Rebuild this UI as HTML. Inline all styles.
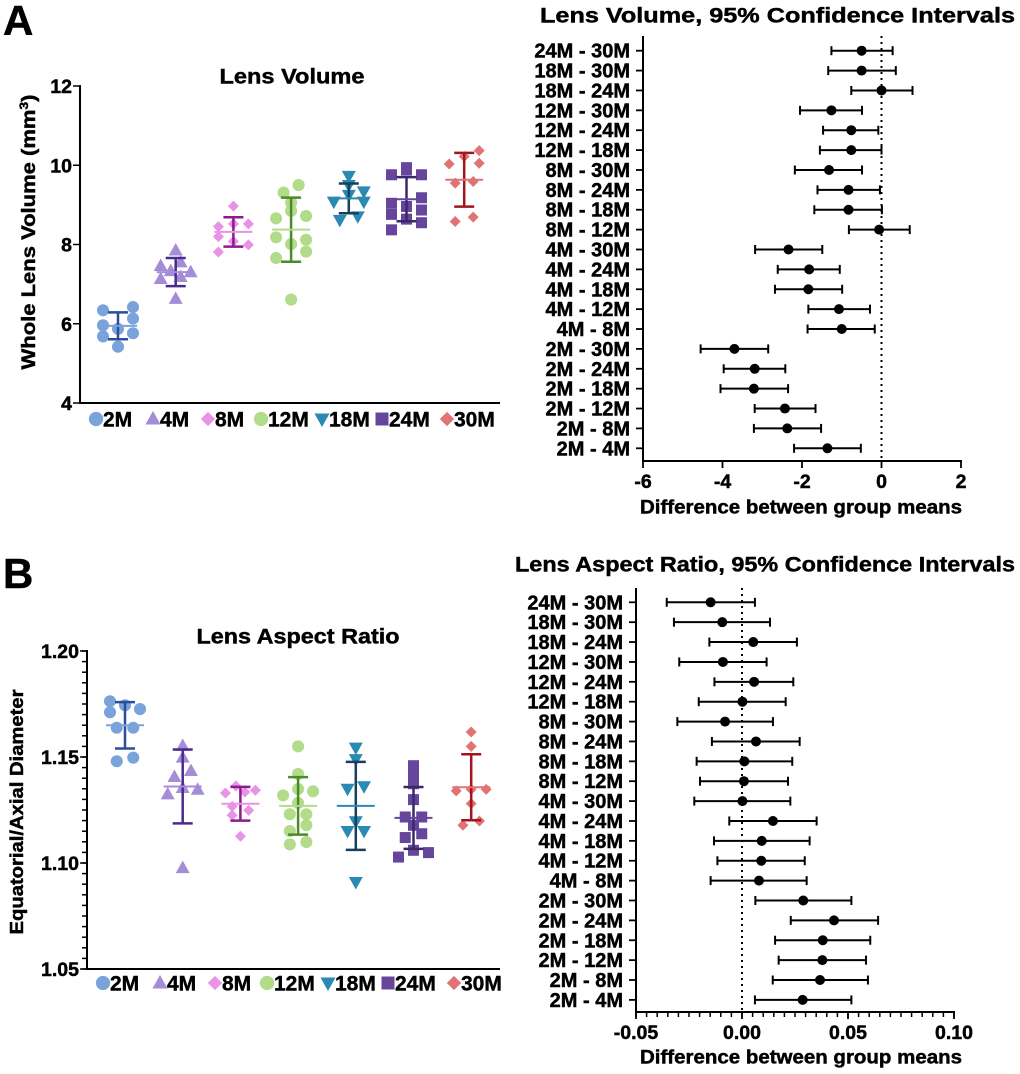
<!DOCTYPE html>
<html><head><meta charset="utf-8">
<style>
html,body{margin:0;padding:0;background:#fff;}
svg{display:block;font-family:"Liberation Sans",Arial,sans-serif;font-weight:bold;}
svg text{stroke:#000;stroke-width:0.45px;}
</style></head>
<body>
<svg id="fig" width="1020" height="1074" viewBox="0 0 1020 1074" xmlns="http://www.w3.org/2000/svg">
<text x="3" y="35" font-size="42">A</text>
<text x="3" y="588" font-size="42">B</text>
</svg>
<script>
// ---------- DATA ----------
const groups = ["2M","4M","8M","12M","18M","24M","30M"];
const volume2M = [6.34,6.42,5.96,6.13,5.87,5.68,5.76,5.42];
const volume4M = [7.85,7.46,7.55,7.30,7.33,7.13,7.18,6.63];
const volume8M = [8.97,8.45,8.52,8.52,8.20,8.08,7.99,7.81];
const volume12M = [9.50,9.31,9.06,8.85,8.66,8.72,8.18,8.12,8.01,7.82,7.66,6.61];
const volume18M = [9.73,9.50,9.08,9.25,9.34,9.08,8.62,8.71];
const volume24M = [9.94,9.76,9.76,9.88,9.04,8.96,9.18,8.87,8.76,8.64,8.55,8.37];
const volume30M = [10.37,10.22,10.03,10.05,9.55,9.59,8.69,8.58];
const volumeTicks = [4,6,8,10,12];

const ratio2M = [1.1763,1.1744,1.1726,1.1711,1.1638,1.1638,1.1480,1.1497];
const ratio4M = [1.1552,1.1497,1.1406,1.1434,1.1354,1.1324,1.1346,1.0976];
const ratio8M = [1.1363,1.1330,1.1335,1.1343,1.1267,1.1248,1.1225,1.1126];
const ratio12M = [1.1550,1.1420,1.1319,1.1349,1.1338,1.1283,1.1230,1.1230,1.1151,1.1178,1.1088,1.1099];
const ratio18M = [1.1544,1.1490,1.1350,1.1362,1.1197,1.1151,1.1151,1.0910];
const ratio24M = [1.1459,1.1414,1.1374,1.1299,1.1217,1.1217,1.1178,1.1120,1.1138,1.1060,1.1049,1.1028];
const ratio30M = [1.1618,1.1550,1.1340,1.1347,1.1347,1.1280,1.1178,1.1198];
const ratioTicks = [1.05,1.10,1.15,1.20];
const ratioTickLabels = ["1.05","1.10","1.15","1.20"];

const comparisons = ["24M - 30M","18M - 30M","18M - 24M","12M - 30M","12M - 24M","12M - 18M","8M - 30M","8M - 24M","8M - 18M","8M - 12M","4M - 30M","4M - 24M","4M - 18M","4M - 12M","4M - 8M","2M - 30M","2M - 24M","2M - 18M","2M - 12M","2M - 8M","2M - 4M"];
const volDiff = [-0.50,-0.50,0,-1.26,-0.76,-0.76,-1.32,-0.83,-0.83,-0.06,-2.34,-1.82,-1.84,-1.07,-1.00,-3.70,-3.19,-3.21,-2.43,-2.37,-1.36];
const volLow = [-1.26,-1.34,-0.76,-2.05,-1.47,-1.55,-2.18,-1.61,-1.69,-0.82,-3.18,-2.61,-2.68,-1.84,-1.86,-4.55,-3.97,-4.05,-3.19,-3.21,-2.20];
const volHigh = [0.28,0.36,0.78,-0.49,-0.08,0.00,-0.49,-0.04,0.01,0.71,-1.49,-1.05,-0.99,-0.29,-0.17,-2.85,-2.42,-2.35,-1.66,-1.52,-0.52];
const volDiffTicks = [-6,-4,-2,0,2];

const ratioDiff = [-0.0148,-0.0093,0.0053,-0.0090,0.0057,0.0002,-0.0080,0.0066,0.0011,0.0009,0.0002,0.0146,0.0093,0.0091,0.0080,0.0289,0.0434,0.0381,0.0379,0.0368,0.0286];
const ratioLow = [-0.0355,-0.0321,-0.0154,-0.0296,-0.0130,-0.0204,-0.0305,-0.0142,-0.0214,-0.0198,-0.0225,-0.0060,-0.0132,-0.0116,-0.0148,0.0063,0.0230,0.0156,0.0173,0.0145,0.0061];
const ratioHigh = [0.0061,0.0132,0.0259,0.0116,0.0242,0.0206,0.0146,0.0272,0.0237,0.0217,0.0228,0.0352,0.0319,0.0296,0.0305,0.0516,0.0642,0.0605,0.0585,0.0594,0.0516];
const ratioDiffTicks = [-0.05,0,0.05,0.10];
const ratioDiffTickLabels = ["-0.05","0.00","0.05","0.10"];

// ---------- STYLE ----------
const fillColors = ["#7aa3dc","#a58cd6","#e893e8","#b3dc8a","#2a8ab2","#65469c","#e07474"];
const barColors = ["#2a4f98","#4b2a90","#8d1a8d","#4a8a28","#173f5e","#3b2868","#a0161c"];
const shapes = ["circle","tri","diamond","circle","itri","square","diamond"];
const jitterA = [[-1,1,-1,1,0,-1,1,0],[0,-1,0.33,1,-0.33,-1,0.33,0],[0,-1,0,1,-1,0,1,-1],[0.5,-0.5,0,0,-1,1,-1,1,0,1,-1,0],[0,0,-1,0,1,1,-0.6,0.6],[0,-1,1,0,-1,0,1,1,-1,0,1,-1],[1,0,-1,1,-0.6,0.6,0.6,-0.6]];
const jitterB = [[-1,0,1,-1,-0.55,0.55,-0.55,0.55],[0,0,-0.55,0.55,0,-1,1,0],[-0.3,-1,0.3,1,-0.55,0.55,-0.55,0],[0,0,-1,0,1,0,-0.55,0.55,-0.55,0.55,-0.55,0.55],[0,0,-0.55,0.55,0,-0.55,0.55,0],[0,0,0,0,-0.55,0.55,0,-0.55,0.55,0,1,-1],[0,0,-1,0,1,0,-0.55,0.55]];

const svg = document.getElementById('fig');
const NS = 'http://www.w3.org/2000/svg';
function mk(tag, attrs, parent){
  const e = document.createElementNS(NS, tag);
  for (const k in attrs) e.setAttribute(k, attrs[k]);
  (parent||svg).appendChild(e);
  return e;
}
function txt(x,y,s,size,anchor,parent,len){
  const a = {x:x,y:y,'font-size':size,'text-anchor':anchor||'start','dominant-baseline':'central'};
  if(len){a.textLength=len; a.lengthAdjust='spacingAndGlyphs';}
  const t = mk('text',a,parent);
  t.textContent = s;
  return t;
}
function marker(shape,cx,cy,s,fill,parent){
  let e;
  if(shape==='circle') e = mk('circle',{cx:cx,cy:cy,r:s*0.55,fill:fill},parent);
  else if(shape==='tri') e = mk('polygon',{points:`${cx},${cy-s*0.62} ${cx-s*0.58},${cy+s*0.42} ${cx+s*0.58},${cy+s*0.42}`,fill:fill},parent);
  else if(shape==='itri') e = mk('polygon',{points:`${cx},${cy+s*0.62} ${cx-s*0.58},${cy-s*0.42} ${cx+s*0.58},${cy-s*0.42}`,fill:fill},parent);
  else if(shape==='square') e = mk('rect',{x:cx-s*0.5,y:cy-s*0.5,width:s,height:s,fill:fill},parent);
  else e = mk('polygon',{points:`${cx},${cy-s*0.55} ${cx+s*0.55},${cy} ${cx},${cy+s*0.55} ${cx-s*0.55},${cy}`,fill:fill},parent);
  return e;
}
function meanSd(a){
  const m = a.reduce((p,c)=>p+c,0)/a.length;
  const v = a.reduce((p,c)=>p+(c-m)*(c-m),0)/(a.length-1);
  return [m, Math.sqrt(v)];
}

function scatterPanel(cfg){
  const g = mk('g',{});
  
  
  const y = v => cfg.y0 + (v-cfg.vmin)/(cfg.vmax-cfg.vmin)*(cfg.y1-cfg.y0);
  const x = i => cfg.xc0 + i*cfg.xstep;
  const yAxis = mk('line',{x1:cfg.ax,y1:cfg.y1-1,x2:cfg.ax,y2:cfg.y0+1,stroke:'#000','stroke-width':2},g);
  
  
  const xAxis = mk('line',{x1:cfg.ax-1,y1:cfg.y0,x2:cfg.xend,y2:cfg.y0,stroke:'#000','stroke-width':2},g);
  
  
  if(cfg.minor){
    for(let v=cfg.vmin; v<=cfg.vmax+1e-9; v+=cfg.minor){
      mk('line',{x1:cfg.ax-5,y1:y(v),x2:cfg.ax,y2:y(v),stroke:'#000','stroke-width':1.5},g);
    }
  }
  cfg.ticks.forEach((t,i)=>{
    mk('line',{x1:cfg.ax-7,y1:y(t),x2:cfg.ax,y2:y(t),stroke:'#000','stroke-width':1.5},g);
    const l = txt(cfg.ax-8,y(t)+1,cfg.tickLabels[i],19.5,'end',g);
    
    
  });
  const title = txt(cfg.titleX,cfg.titleY,cfg.title,21,'middle',g,cfg.titleLen);
  
  
  const yl = mk('text',{x:0,y:0,'font-size':cfg.ylSize,'text-anchor':'middle',transform:`translate(${cfg.ylX},${cfg.ylY}) rotate(-90)`,textLength:cfg.ylLen,lengthAdjust:'spacingAndGlyphs'},g);
  
  
  yl.innerHTML = cfg.ylabel;
  cfg.series.forEach((vals,gi)=>{
    const sg = mk('g',{},g);
    
    
    vals.forEach((v,pi)=>{
      const m = marker(shapes[gi], x(gi)+cfg.jit[gi][pi]*cfg.jw, y(v), cfg.msize[gi], fillColors[gi], sg);
      
      
    });
    const [mean,sd] = meanSd(vals);
    const cx = x(gi);
    const bar = mk('line',{x1:cx,y1:y(mean+sd),x2:cx,y2:y(mean-sd),stroke:barColors[gi],'stroke-width':2.5},sg);
    
    
    [mean+sd,mean-sd].forEach(v=>{
      const c = mk('line',{x1:cx-10,y1:y(v),x2:cx+10,y2:y(v),stroke:barColors[gi],'stroke-width':2.5},sg);
      
      
    });
    const ml = mk('line',{x1:cx-19,y1:y(mean),x2:cx+19,y2:y(mean),stroke:fillColors[gi],'stroke-width':2},sg);
    
    
    const lg = mk('g',{},g);
    
    
    marker(shapes[gi], cfg.legM[gi], cfg.legY, 13, fillColors[gi], lg);
    txt(cfg.legM[gi]+7, cfg.legY+1, groups[gi], 21, 'start', lg);
  });
}

scatterPanel({name:'lens-volume-chart', y0:403, y1:86, vmin:4, vmax:12, ax:80, xend:500, xc0:118, xstep:57.7,
  ticks:volumeTicks, tickLabels:volumeTicks.map(String), title:'Lens Volume', titleLen:145, titleX:292, titleY:77,
  ylabel:'Whole Lens Volume (mm<tspan dy="-7" font-size="12">3</tspan><tspan dy="7">)</tspan>', ylX:35, ylY:232, ylSize:19, ylLen:275,
  series:[volume2M,volume4M,volume8M,volume12M,volume18M,volume24M,volume30M], jit:jitterA, jw:15,
  msize:[11,12,10,11,12,11,10], legM:[96,153,208,261,322,382,447], legY:419});

scatterPanel({name:'lens-aspect-ratio-chart', y0:969, y1:651, vmin:1.05, vmax:1.20, ax:87, xend:500, xc0:125, xstep:57.7,
  ticks:ratioTicks, tickLabels:ratioTickLabels, minor:0.005, title:'Lens Aspect Ratio', titleLen:203, titleX:298, titleY:637,
  ylabel:'Equatorial/Axial Diameter', ylX:23, ylY:812, ylSize:18, ylLen:245,
  series:[ratio2M,ratio4M,ratio8M,ratio12M,ratio18M,ratio24M,ratio30M], jit:jitterB, jw:15,
  msize:[11,12,10,11,12,11,10], legM:[103,160,215,267,328,388,454], legY:983});

function forestPanel(cfg){
  const g = mk('g',{});
  
  
  const x = v => cfg.x0 + (v-cfg.vmin)/(cfg.vmax-cfg.vmin)*(cfg.x1-cfg.x0);
  const y = i => cfg.row0 + i*cfg.rowStep;
  const title = txt(cfg.titleX,cfg.titleY,cfg.title,21,'start',g,cfg.titleLen);
  
  
  const ya = mk('line',{x1:cfg.x0,y1:cfg.top,x2:cfg.x0,y2:cfg.axY+1,stroke:'#000','stroke-width':2},g);
  
  
  const xa = mk('line',{x1:cfg.x0-1,y1:cfg.axY,x2:cfg.x1+1,y2:cfg.axY,stroke:'#000','stroke-width':2},g);
  
  
  if(cfg.minor){
    for(let v=cfg.vmin; v<=cfg.vmax+1e-9; v+=cfg.minor){
      mk('line',{x1:x(v),y1:cfg.axY,x2:x(v),y2:cfg.axY+5,stroke:'#000','stroke-width':1.5},g);
    }
  }
  cfg.ticks.forEach((t,i)=>{
    mk('line',{x1:x(t),y1:cfg.axY,x2:x(t),y2:cfg.axY+7,stroke:'#000','stroke-width':1.8},g);
    const l = txt(x(t),cfg.axY+21,cfg.tickLabels[i],19.5,'middle',g);
    
    
  });
  const xl = txt(cfg.xlX,cfg.xlY,'Difference between group means',19,'middle',g,322);
  
  
  const zl = mk('line',{x1:x(0),y1:cfg.top,x2:x(0),y2:cfg.axY,stroke:'#000','stroke-width':2,'stroke-dasharray':'2,4'},g);
  
  
  comparisons.forEach((c,i)=>{
    const rg = mk('g',{},g);
    
    
    mk('line',{x1:cfg.x0-7,y1:y(i),x2:cfg.x0,y2:y(i),stroke:'#000','stroke-width':1.8},rg);
    const l = txt(cfg.x0-13,y(i)+1,c,20,'end',rg);
    
    
    const ci = mk('line',{x1:x(cfg.low[i]),y1:y(i),x2:x(cfg.high[i]),y2:y(i),stroke:'#000','stroke-width':2},rg);
    
    
    [cfg.low[i],cfg.high[i]].forEach(v=>{
      mk('line',{x1:x(v),y1:y(i)-4.5,x2:x(v),y2:y(i)+4.5,stroke:'#000','stroke-width':2},rg);
    });
    const d = mk('circle',{cx:x(cfg.diff[i]),cy:y(i),r:5,fill:'#000'},rg);
    
    
  });
}

forestPanel({name:'lens-volume-ci-chart', x0:643, x1:961, vmin:-6, vmax:2, axY:461, top:36, row0:50.7, rowStep:19.88,
  ticks:volDiffTicks, tickLabels:volDiffTicks.map(String), title:'Lens Volume, 95% Confidence Intervals', titleLen:475, titleX:540, titleY:16,
  xlX:801, xlY:508, diff:volDiff, low:volLow, high:volHigh});

forestPanel({name:'lens-aspect-ratio-ci-chart', x0:636, x1:954, vmin:-0.05, vmax:0.10, minor:0.005, axY:1012, top:588, row0:602.3, rowStep:19.88,
  ticks:ratioDiffTicks, tickLabels:ratioDiffTickLabels, title:'Lens Aspect Ratio, 95% Confidence Intervals', titleLen:500, titleX:515, titleY:565,
  xlX:801, xlY:1058, diff:ratioDiff, low:ratioLow, high:ratioHigh});
</script>
</body></html>
